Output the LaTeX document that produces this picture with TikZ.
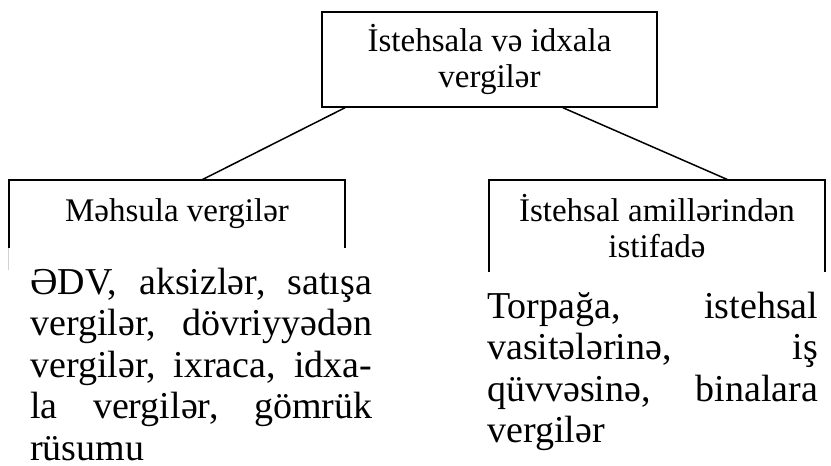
\documentclass[tikz,border=0pt]{standalone}
\usepackage{fontspec}
\setmainfont{Liberation Serif}
\begin{document}
\begin{tikzpicture}
      [x=1pt,y=-1pt,
       taxbox/.style={rectangle,inner sep=0pt,align=center,font=\fontsize{33}{36}\selectfont},
       taxlist/.style={inner sep=0pt,anchor=base west,align=justify,font=\fontsize{38}{41.5}\selectfont},
       link/.style={line width=1.5pt}]
      \useasboundingbox (0,0) rectangle (831,466);
      % place nodes
      \node[taxbox,draw,line width=1.5pt,minimum width=335pt,minimum height=95pt] (total) at (489.5,59.5) {İstehsala və idxala\\vergilər};
      \node[taxbox,minimum width=336pt,minimum height=68pt] (product) at (177,214) {Məhsula vergilər};
      \node[taxbox,minimum width=336pt,minimum height=92pt] (factor) at (657,226) {İstehsal amillərindən\\istifadə};
      \node[taxlist,text width=342pt] (productlist) at (30,294) {ƏDV,~aksizlər,~satışa\linebreak vergilər,~dövriyyədən\linebreak vergilər,~ixraca,~idxa-\linebreak la~vergilər,~gömrük\linebreak rüsumu};
      \node[taxlist,text width=331pt] (factorlist) at (487,318) {Torpağa,~istehsal\linebreak vasitələrinə,~iş\linebreak qüvvəsinə,~binalara\linebreak vergilər};
      % open boxes
      \draw[link] (product.south west) -- (product.north west) -- (product.north east) -- (product.south east);
      \draw[gray!35,line width=1pt] (product.south west) -- ++(0,22);
      \draw[link] (factor.south west) -- (factor.north west) -- (factor.north east) -- (factor.south east);
      % add edges
      \draw[link] ([xshift=-144.5pt]total.south) -- ([xshift=25pt]product.north);
      \draw[link] ([xshift=73.5pt]total.south) -- ([xshift=71pt]factor.north);
\end{tikzpicture}
\end{document}
